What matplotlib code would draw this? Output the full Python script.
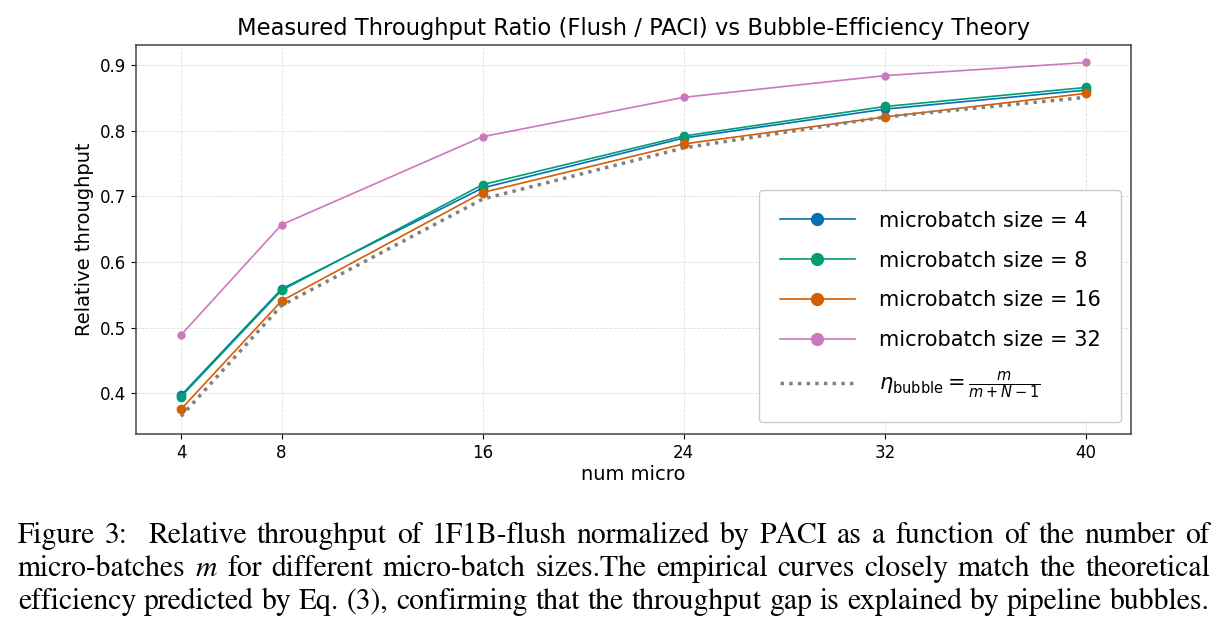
"""Flush / PACI throughput ratio vs bubble-efficiency theory."""

import matplotlib

matplotlib.use("Agg")
import matplotlib.pyplot as plt

# data
num_micro = [4, 8, 16, 24, 32, 40]
mb_sizes = [4, 8, 16, 32]
ratio_mb4 = [0.397, 0.559, 0.713, 0.789, 0.833, 0.862]
ratio_mb8 = [0.395, 0.557, 0.718, 0.792, 0.837, 0.866]
ratio_mb16 = [0.376, 0.541, 0.706, 0.780, 0.821, 0.857]
ratio_mb32 = [0.489, 0.657, 0.791, 0.851, 0.884, 0.904]
eta_bubble = [0.365, 0.534, 0.696, 0.774, 0.821, 0.851]

colors = ["#0173b2", "#029e73", "#d55e00", "#cc78bc"]
series = [ratio_mb4, ratio_mb8, ratio_mb16, ratio_mb32]

caption = [
    "Figure 3:  Relative throughput of 1F1B-flush normalized by PACI as a function of the number of",
    "micro-batches $m$ for different micro-batch sizes.The empirical curves closely match the theoretical",
    "efficiency predicted by Eq. (3), confirming that the throughput gap is explained by pipeline bubbles.",
]

fig = plt.figure(figsize=(12.23, 6.31), dpi=100)
ax = fig.add_axes([0.111, 0.312, 0.814, 0.617])

for mb, vals, c in zip(mb_sizes, series, colors):
    ms = 5 if mb == 32 else 6
    ax.plot(num_micro, vals, color=c, lw=1.2, marker="o", ms=ms,
            label=f"microbatch size = {mb}")
ax.plot(num_micro, eta_bubble, color="gray", lw=2.5, ls=(0, (1, 1.5)),
        label=r"$\eta_{\mathrm{bubble}} = \frac{m}{m+N-1}$")

ax.set_xticks(num_micro)
ax.tick_params(labelsize=12)
ax.set_xlabel("num micro", fontsize=14, labelpad=2)
ax.set_ylabel("Relative throughput", fontsize=14)
ax.set_title("Measured Throughput Ratio (Flush / PACI) vs Bubble-Efficiency Theory",
             fontsize=16.3, pad=7)
ax.grid(True, ls="--", lw=0.6, color="#dddddd")
for sp in ax.spines.values():
    sp.set_color("#444444")
    sp.set_linewidth(1.1)

leg = ax.legend(loc="lower right", fontsize=15, labelspacing=0.95,
                borderpad=1.0, handlelength=3.6, handletextpad=1.15,
                bbox_to_anchor=(0.99, 0.031), borderaxespad=0,
                framealpha=1, edgecolor="#cccccc")
for h in leg.legend_handles[:4]:
    h.set_markersize(8.5)

# justified caption below the chart (Times-like serif)
fig.canvas.draw()
r = fig.canvas.get_renderer()
x0, x1 = 18 / 1223, 1210 / 1223
for i, line in enumerate(caption):
    words = line.split()
    texts = [fig.text(0, 0.1395 - i * 0.0523, w, fontsize=21.3,
                      family=["STIXGeneral", "Liberation Serif"], va="baseline",
                      math_fontfamily="stix") for w in words]
    widths = [t.get_window_extent(r).width / fig.bbox.width for t in texts]
    # the gap after "Figure 3:" is a double space
    weights = [2.0 if w.endswith(":") else 1.0 for w in words[:-1]]
    gap = (x1 - x0 - sum(widths)) / sum(weights)
    x = x0
    for t, w, k in zip(texts, widths, weights + [0]):
        t.set_x(x)
        x += w + gap * k

fig.savefig("out.png", dpi=100)
